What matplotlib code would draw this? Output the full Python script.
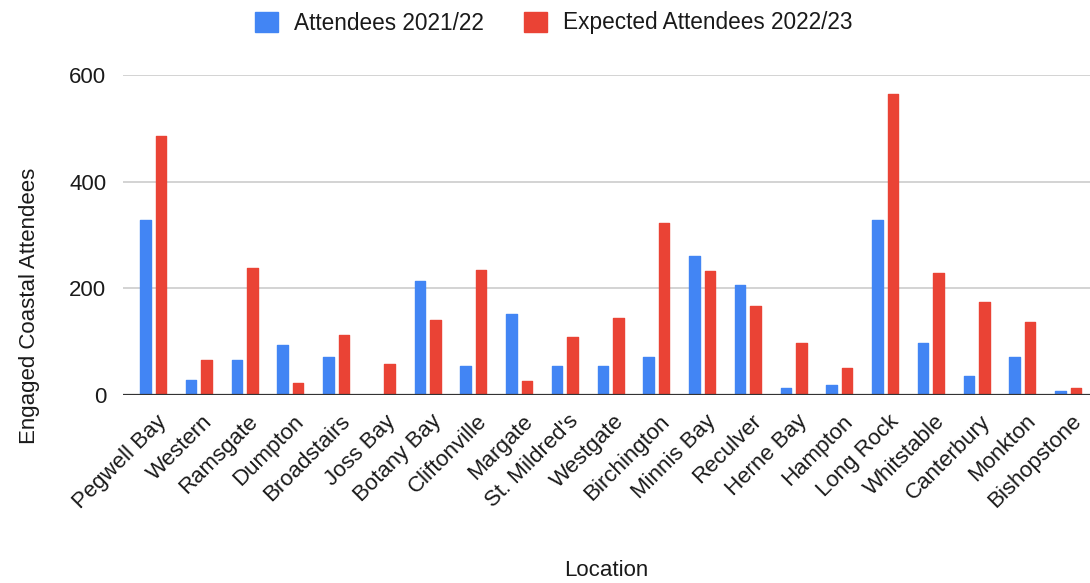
import numpy as np
import matplotlib
matplotlib.use("Agg")
import matplotlib.pyplot as plt
from matplotlib.transforms import ScaledTranslation

# ---------------------------------------------------------------------------
# Data
# ---------------------------------------------------------------------------
locations = [
    "Pegwell Bay", "Western", "Ramsgate", "Dumpton", "Broadstairs", "Joss Bay",
    "Botany Bay", "Cliftonville", "Margate", "St. Mildred's", "Westgate",
    "Birchington", "Minnis Bay", "Reculver", "Herne Bay", "Hampton",
    "Long Rock", "Whitstable", "Canterbury", "Monkton", "Bishopstone",
]
attendees_2122 = [329, 29, 65, 94, 72, 0, 214, 54, 152, 54, 54,
                  72, 260, 206, 14, 19, 329, 97, 36, 72, 7]
expected_2223 = [485, 65, 239, 22, 112, 58, 141, 235, 26, 109, 144,
                 322, 232, 166, 97, 51, 564, 229, 174, 137, 14]
y_ticks = [0, 200, 400, 600]

BLUE = "#4285F4"
RED = "#EA4335"
FONT = ["Liberation Sans", "DejaVu Sans"]
plt.rcParams["font.family"] = FONT

# ---------------------------------------------------------------------------
# Figure
# ---------------------------------------------------------------------------
fig = plt.figure(figsize=(10.9, 5.83), dpi=100)
ax = fig.add_axes([123 / 1090, 1 - 395 / 583, 1 - 123 / 1090, 320 / 583])

x = np.arange(len(locations))
offset = 0.17
width = 0.23
bar_kw = dict(width=width, linewidth=1.0, joinstyle="round", zorder=3)
ax.bar(x - offset, attendees_2122, color=BLUE, edgecolor=BLUE,
       label="Attendees 2021/22", **bar_kw)
ax.bar(x + offset, expected_2223, color=RED, edgecolor=RED,
       label="Expected Attendees 2022/23", **bar_kw)

ax.set_xlim(-0.66, len(locations) - 1 + 0.48)
ax.set_ylim(0, 600)
ax.set_yticks(y_ticks)
ax.yaxis.grid(True, color="#cccccc", linewidth=1.2, zorder=0)
ax.axhline(0, color="#333333", linewidth=1.6, zorder=4)

for side in ("top", "right", "left", "bottom"):
    ax.spines[side].set_visible(False)
ax.tick_params(axis="both", length=0, labelsize=16, colors="#1a1a1a")
ax.tick_params(axis="y", pad=12)

ax.set_xticks(x)
ax.set_xticklabels(locations, rotation=45, ha="right", va="top",
                   rotation_mode="anchor")
# nudge rotated labels so their ends sit just under each group
shift = ScaledTranslation(3 / 100, -11 / 100, fig.dpi_scale_trans)
for lbl in ax.get_xticklabels():
    lbl.set_transform(lbl.get_transform() + shift)

fig.text(606 / 1090, 1 - 571 / 583, "Location", ha="center", va="center",
         fontsize=16, color="#1a1a1a")
fig.text(30 / 1090, 1 - 306 / 583, "Engaged Coastal Attendees", rotation=90,
         ha="center", va="center", fontsize=16, color="#1a1a1a")

leg = fig.legend(loc="center", bbox_to_anchor=(0.508, 1 - 23 / 583), ncol=2,
                 frameon=False, fontsize=16.3, handlelength=1.0,
                 handleheight=1.0, handletextpad=0.7, columnspacing=1.8)
for t in leg.get_texts():
    t.set_color("#1a1a1a")

fig.savefig("out.png", dpi=100)
